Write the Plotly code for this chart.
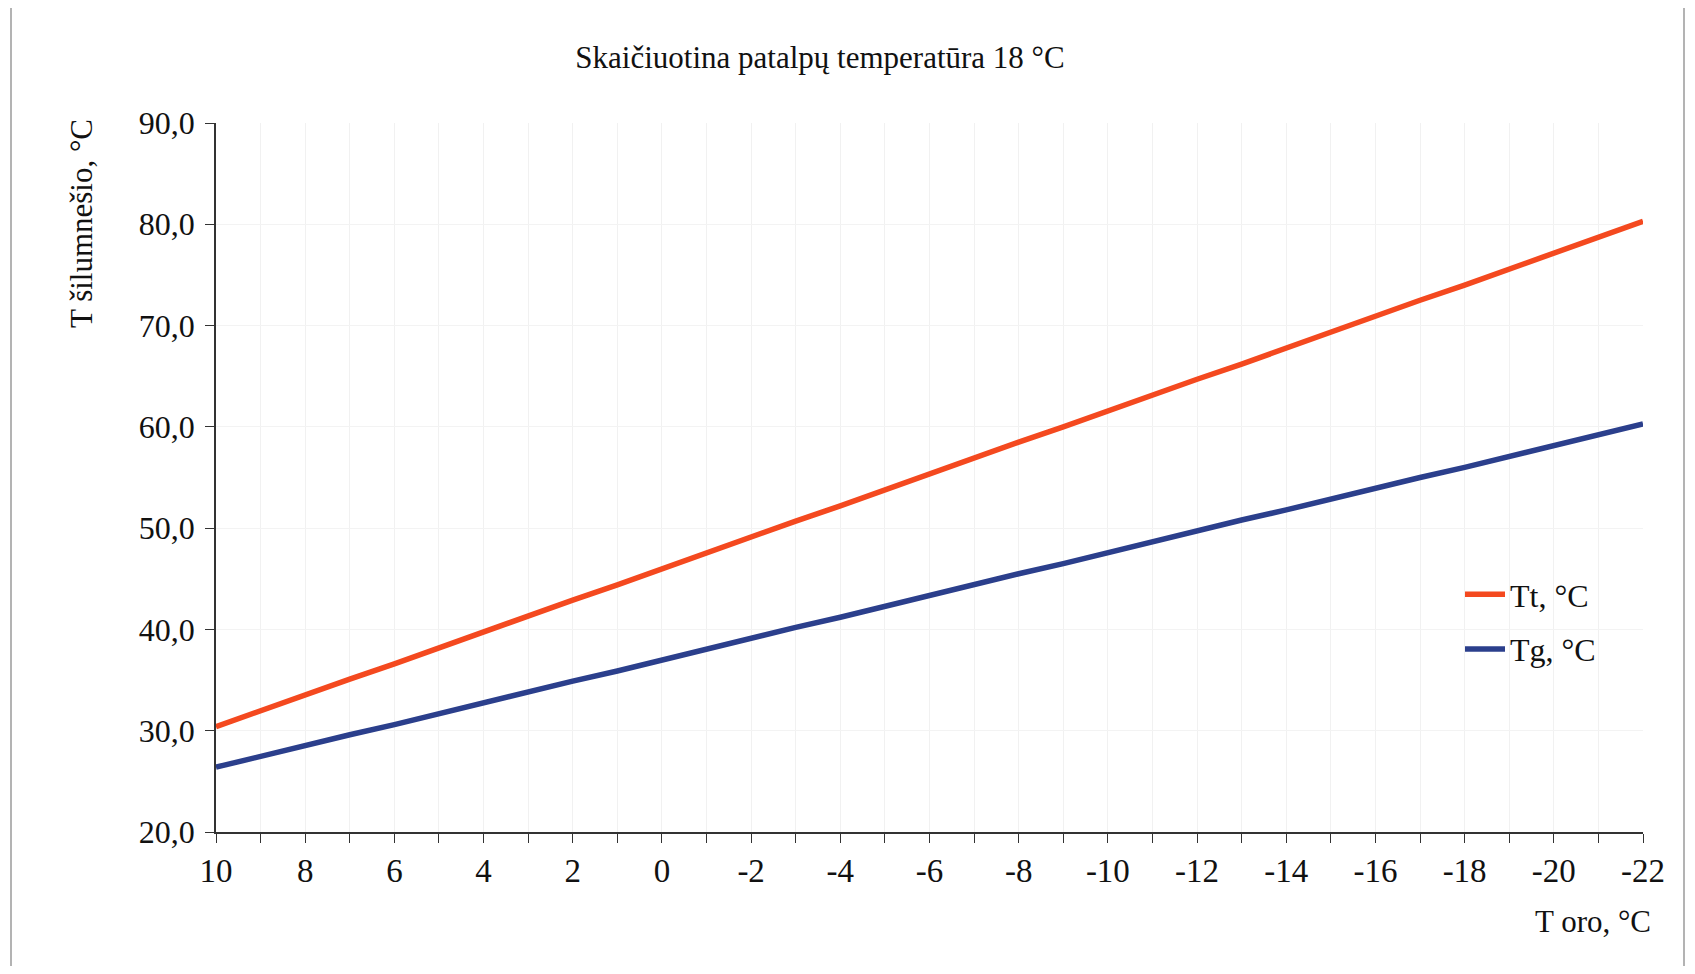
import plotly.graph_objects as go

# Outdoor temperature (x) and supply/return water temperatures
t_oro = [10, 9, 8, 7, 6, 5, 4, 3, 2, 1, 0, -1, -2, -3, -4, -5, -6, -7, -8, -9, -10,
         -11, -12, -13, -14, -15, -16, -17, -18, -19, -20, -21, -22]
Tt = [30.4, 32.0, 33.5, 35.1, 36.6, 38.2, 39.8, 41.3, 42.9, 44.4, 46.0, 47.6, 49.1,
      50.7, 52.2, 53.8, 55.3, 56.9, 58.5, 60.0, 61.6, 63.1, 64.7, 66.2, 67.8, 69.4,
      70.9, 72.5, 74.0, 75.6, 77.1, 78.7, 80.3]
Tg = [26.4, 27.5, 28.5, 29.6, 30.6, 31.7, 32.8, 33.8, 34.9, 35.9, 37.0, 38.1, 39.1,
      40.2, 41.2, 42.3, 43.3, 44.4, 45.5, 46.5, 47.6, 48.6, 49.7, 50.8, 51.8, 52.9,
      53.9, 55.0, 56.0, 57.1, 58.2, 59.2, 60.3]
series_names = ["Tt, °C", "Tg, °C"]
x_tick_vals = [10, 8, 6, 4, 2, 0, -2, -4, -6, -8, -10, -12, -14, -16, -18, -20, -22]
x_tick_text = ["10", "8", "6", "4", "2", "0", "-2", "-4", "-6", "-8", "-10", "-12",
               "-14", "-16", "-18", "-20", "-22"]
y_tick_vals = [20, 30, 40, 50, 60, 70, 80, 90]

FONT = "Liberation Serif"
OFF = 8  # default page body margin
W, H = 1695 - 2 * OFF, 974 - 2 * OFF
# plot area in page pixels: x 216..1643, y 123..832
L = 216 - OFF
T = 123 - OFF
R = W - (1643 - OFF)
B = H - (832 - OFF)
PW, PH = W - L - R, H - T - B

def px2paper(px, py):
    # page pixel -> paper coords
    fx, fy = px - OFF, py - OFF
    return (fx - L) / PW, (H - B - fy) / PH

fig = go.Figure()
fig.add_trace(go.Scatter(x=t_oro, y=Tt, mode="lines", name=series_names[0],
                         legendgroup="a", line=dict(color="#F4491F", width=5.5)))
fig.add_trace(go.Scatter(x=t_oro, y=Tg, mode="lines", name=series_names[1],
                         legendgroup="b", line=dict(color="#2B3F8C", width=5.5)))

axis_col = "#333333"
fig.update_xaxes(
    range=[10, -22], tickvals=x_tick_vals, ticktext=x_tick_text, ticks="outside",
    ticklen=9, tickwidth=1.3, tickcolor=axis_col, showline=True, linecolor=axis_col,
    linewidth=1.5, showgrid=True, gridcolor="#f1f1f1", gridwidth=1, zeroline=False,
    minor=dict(dtick=1, tick0=0, ticks="outside", ticklen=9, tickwidth=1.3,
               tickcolor=axis_col, showgrid=True, gridcolor="#f1f1f1"),
    tickfont=dict(family=FONT, size=33, color="#111"), ticklabelstandoff=0,
)
fig.update_yaxes(
    range=[20, 90], tickvals=y_tick_vals, tickformat=".1f", ticks="outside",
    ticklen=9, tickwidth=1.3, tickcolor=axis_col, showline=True, linecolor=axis_col,
    linewidth=1.5, showgrid=True, gridcolor="#f3f3f3", zeroline=False,
    tickfont=dict(family=FONT, size=32, color="#111"), ticklabelstandoff=4,
)

lx, ly = px2paper(1460, 622)
bx0, by0 = px2paper(11, 968)
bx1, by1 = px2paper(1684, 5)
fig.update_layout(
    width=W, height=H, separators=", ",
    margin=dict(l=L, r=R, t=T, b=B, autoexpand=False),
    paper_bgcolor="white", plot_bgcolor="white",
    font=dict(family=FONT, color="#111"),
    title=dict(text="Skaičiuotina patalpų temperatūra 18 °C",
               x=(820 - OFF) / W, xanchor="center",
               y=1 - (57 - OFF) / H, yanchor="middle",
               font=dict(family=FONT, size=31, color="#111")),
    legend=dict(x=lx, y=ly, xanchor="left", yanchor="middle", bgcolor="rgba(0,0,0,0)",
                font=dict(family=FONT, size=32, color="#111"), itemwidth=40,
                tracegroupgap=10),
    showlegend=True,
    annotations=[
        dict(text="T šilumnešio, °C", textangle=-90, xref="paper", yref="paper",
             x=px2paper(81, 0)[0], y=px2paper(0, 224)[1], xanchor="center", yanchor="middle",
             showarrow=False, font=dict(family=FONT, size=31, color="#111")),
        dict(text="T oro, °C", xref="paper", yref="paper",
             x=px2paper(1593, 0)[0], y=px2paper(0, 921)[1], xanchor="center", yanchor="middle",
             showarrow=False, font=dict(family=FONT, size=31, color="#111")),
    ],
    shapes=[dict(type="rect", xref="paper", yref="paper", x0=bx0, y0=by0, x1=bx1, y1=by1,
                 line=dict(color="#9a9a9a", width=1.5), layer="below")],
)

fig.write_html("out.html")
